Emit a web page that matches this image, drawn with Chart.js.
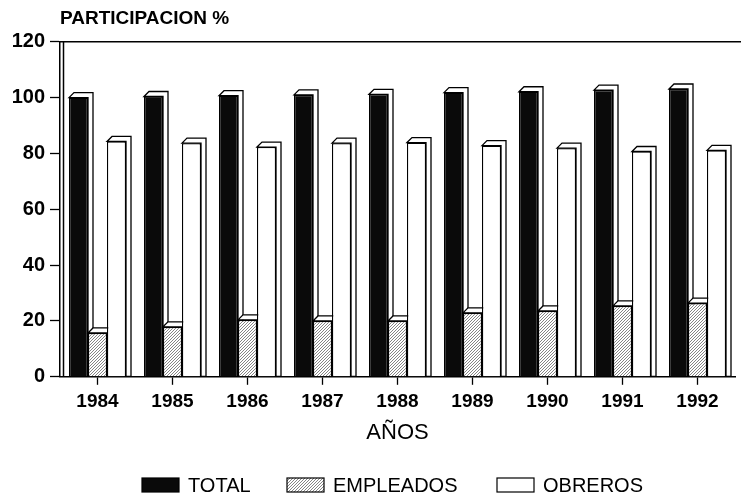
<!DOCTYPE html>
<html lang="es">
<head>
    <meta charset="UTF-8">
    <title>Participacion</title>
    <style>
        body { margin: 0; background: #fff; }
        #wrap { width: 741px; height: 500px; position: relative; }
    </style>
</head>
<body>
    <div id="wrap"><canvas id="myChart"></canvas></div>
    <script src="https://cdn.jsdelivr.net/npm/chart.js"></script>
    <script>
        // datos
        const v_years = ["1984", "1985", "1986", "1987", "1988", "1989", "1990", "1991", "1992"];
        const v_total = [100, 100.4, 100.7, 101, 101.2, 101.8, 102.1, 102.7, 103.1];
        const v_empleados = [15.7, 17.9, 20.4, 20, 20, 22.9, 23.6, 25.4, 26.4];
        const v_obreros = [84.3, 83.7, 82.3, 83.7, 83.9, 82.8, 81.9, 80.7, 81.1];
        const v_yTicks = [0, 20, 40, 60, 80, 100, 120];

        const v_font = "'Liberation Sans', Arial, sans-serif";
        const v_legendX = [142, 287, 497];

        function f_hatch() {
            const c = document.createElement("canvas");
            c.width = 3; c.height = 3;
            const g = c.getContext("2d");
            g.fillStyle = "#fff";
            g.fillRect(0, 0, 3, 3);
            g.strokeStyle = "#777";
            g.lineWidth = 0.9;
            g.beginPath();
            g.moveTo(0, 3); g.lineTo(3, 0);
            g.moveTo(-1, 1); g.lineTo(1, -1);
            g.moveTo(2, 4); g.lineTo(4, 2);
            g.stroke();
            return g.createPattern(c, "repeat");
        }

        const v_extras = {
            id: "extras",
            beforeDatasetsDraw(chart) {
                const ctx = chart.ctx;
                const d = 5;
                ctx.save();
                ctx.fillStyle = "#fff";
                ctx.strokeStyle = "#000";
                ctx.lineWidth = 1.3;
                chart.data.datasets.forEach((ds, i) => {
                    chart.getDatasetMeta(i).data.forEach(bar => {
                        const l = bar.x - bar.width / 2, r = bar.x + bar.width / 2;
                        ctx.beginPath();
                        ctx.moveTo(l, bar.y);
                        ctx.lineTo(l + d, bar.y - d);
                        ctx.lineTo(r + d, bar.y - d);
                        ctx.lineTo(r + d, bar.base);
                        ctx.lineTo(r, bar.base);
                        ctx.lineTo(r, bar.y);
                        ctx.closePath();
                        ctx.fill();
                        ctx.stroke();
                    });
                });
                ctx.restore();
            },
            afterDraw(chart) {
                const ctx = chart.ctx;
                const a = chart.chartArea;
                ctx.save();
                ctx.strokeStyle = "#000";
                ctx.lineWidth = 1.5;
                ctx.beginPath();
                ctx.moveTo(a.left, a.top);
                ctx.lineTo(chart.width, a.top);
                ctx.moveTo(a.left + 3.5, a.top);
                ctx.lineTo(a.left + 3.5, a.bottom);
                ctx.stroke();

                // leyenda
                ctx.font = "20px " + v_font;
                ctx.textBaseline = "middle";
                chart.data.datasets.forEach((ds, i) => {
                    const x = v_legendX[i];
                    ctx.fillStyle = ds.backgroundColor;
                    ctx.fillRect(x, 478, 37, 14);
                    ctx.lineWidth = 1.2;
                    ctx.strokeRect(x, 478, 37, 14);
                    ctx.fillStyle = "#000";
                    ctx.fillText(ds.label, x + 46, 486);
                });
                ctx.restore();
            }
        };

        const ctx = document.getElementById("myChart");

        new Chart(ctx, {
            type: "bar",
            data: {
                labels: v_years,
                datasets: [
                    { label: "TOTAL", data: v_total, backgroundColor: "#0a0a0a" },
                    { label: "EMPLEADOS", data: v_empleados, backgroundColor: f_hatch() },
                    { label: "OBREROS", data: v_obreros, backgroundColor: "#fff" }
                ]
            },
            options: {
                responsive: true,
                maintainAspectRatio: false,
                animation: false,
                devicePixelRatio: 1,
                layout: { padding: { left: 0, right: 6, top: 0, bottom: 50 } },
                datasets: {
                    bar: {
                        barPercentage: 1,
                        categoryPercentage: 0.76,
                        borderColor: "#000",
                        borderWidth: 1.3
                    }
                },
                scales: {
                    x: {
                        grid: { offset: false, drawOnChartArea: false, tickLength: 8, tickColor: "#000", tickWidth: 1.3 },
                        border: { color: "#000", width: 1.5 },
                        ticks: { color: "#000", font: { family: v_font, size: 19, weight: "bold" }, maxRotation: 0, padding: 6 },
                        title: { display: true, text: "AÑOS", color: "#000", font: { family: v_font, size: 22 }, padding: { top: 0, bottom: 4 } }
                    },
                    y: {
                        min: 0,
                        max: 120,
                        afterBuildTicks: scale => { scale.ticks = v_yTicks.map(v => ({ value: v })); },
                        afterFit: scale => { scale.width = 60; },
                        grid: { drawOnChartArea: false, tickLength: 10, tickColor: "#000", tickWidth: 1.3 },
                        border: { color: "#000", width: 1.5 },
                        ticks: { color: "#000", font: { family: v_font, size: 20, weight: "bold" }, padding: 5 }
                    }
                },
                plugins: {
                    legend: { display: false },
                    tooltip: { enabled: false },
                    title: {
                        display: true,
                        text: "PARTICIPACION %",
                        align: "start",
                        fullSize: false,
                        color: "#000",
                        font: { family: v_font, size: 19, weight: "bold" },
                        padding: { top: 7, bottom: 12 }
                    }
                }
            },
            plugins: [v_extras]
        });
    </script>
</body>
</html>
